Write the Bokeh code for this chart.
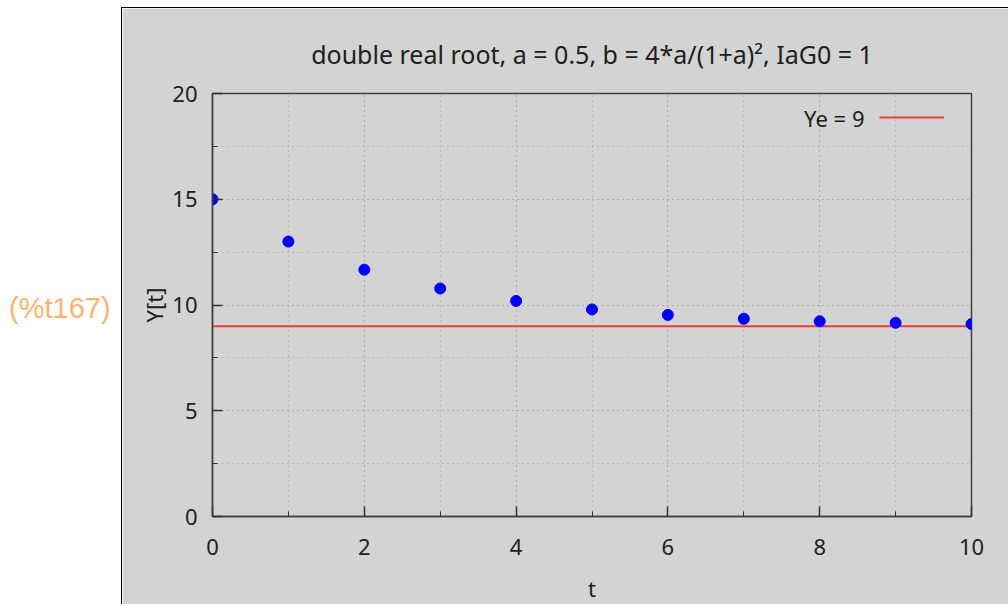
from bokeh.plotting import figure
from bokeh.models import (Range1d, SingleIntervalTicker, Label, Legend, LegendItem, Div,
                          ColumnDataSource)
from bokeh.layouts import row
from bokeh.embed import file_html
from bokeh.resources import INLINE

# ---- data ----
t_vals = [0, 1, 2, 3, 4, 5, 6, 7, 8, 9, 10]
Y_vals = [15.0, 13.0, 11.67, 10.78, 10.19, 9.79, 9.53, 9.35, 9.23, 9.16, 9.10]
Ye_t = [0, 10]
Ye_vals = [9, 9]

title_text = "double real root, a = 0.5, b = 4*a/(1+a)\u00b2, IaG0 = 1"
legend_text = "Ye = 9"
cell_label = "(%t167)"

GRAY = "#d3d3d3"
FONT = "Noto Sans"

p = figure(width=888, height=597, output_backend="svg", toolbar_location=None,
           x_range=Range1d(0, 10), y_range=Range1d(0, 20),
           min_border_left=90, min_border_right=39, min_border_top=85, min_border_bottom=88,
           background_fill_color=GRAY, border_fill_color=GRAY)
p.styles = {"border-left": "1px solid #000000", "border-top": "1px solid #000000"}

p.title.text = title_text
p.title.align = "center"
p.title.text_font = FONT
p.title.text_font_size = "25px"
p.title.text_font_style = "normal"
p.title.text_color = "#202020"
p.title.standoff = 45

p.outline_line_color = "#404040"
p.outline_line_width = 1.5

p.xaxis.ticker = SingleIntervalTicker(interval=2, num_minor_ticks=2)
p.yaxis.ticker = SingleIntervalTicker(interval=5, num_minor_ticks=2)

for ax in (p.xaxis[0], p.yaxis[0]):
    ax.axis_line_color = "#404040"
    ax.axis_line_width = 1.5
    ax.major_tick_in = 10
    ax.major_tick_out = 0
    ax.minor_tick_in = 5
    ax.minor_tick_out = 0
    ax.major_tick_line_color = "#303030"
    ax.minor_tick_line_color = "#303030"
    ax.major_tick_line_width = 1.5
    ax.major_label_text_font = FONT
    ax.major_label_text_font_size = "22px"
    ax.major_label_text_color = "#202020"
    ax.axis_label_text_font = FONT
    ax.axis_label_text_font_size = "22px"
    ax.axis_label_text_font_style = "normal"
    ax.axis_label_text_color = "#202020"

p.xaxis.major_label_standoff = 22
p.yaxis.major_label_standoff = 15
p.xaxis.axis_label = "t"
p.xaxis.axis_label_standoff = 15
p.yaxis.axis_label = "Y[t]"
p.yaxis.axis_label_standoff = 0

for g in (p.xgrid[0], p.ygrid[0]):
    g.grid_line_color = "#a0a0a0"
    g.grid_line_dash = "1 4"
    g.grid_line_width = 1
    g.minor_grid_line_color = "#a0a0a0"
    g.minor_grid_line_dash = "1 4"
    g.minor_grid_line_width = 1

src_ye = ColumnDataSource(dict(t=Ye_t, y=Ye_vals))
r_ye = p.line("t", "y", source=src_ye, line_color="#f03c3c", line_width=2)

src = ColumnDataSource(dict(t=t_vals, y=Y_vals))
p.scatter("t", "y", source=src, size=11, color="#0000ff")

legend = Legend(items=[LegendItem(label=" ", renderers=[r_ye])],
                location=(667, 389), glyph_width=65, glyph_height=20,
                padding=0, spacing=0, margin=0, label_standoff=0,
                background_fill_alpha=0, border_line_alpha=0,
                label_text_font_size="4px")
p.add_layout(legend)

p.add_layout(Label(x=8.59, y=18.82, text=legend_text, text_align="right",
                   text_baseline="middle", text_font=FONT, text_font_size="22px",
                   text_color="#202020"))

div = Div(text='<div style="padding-top:276px;padding-left:4px;">' + cell_label + '</div>',
          width=111, height=598,
          styles={"color": "#ffb36b", "font-family": "Liberation Sans",
                  "font-size": "29px", "background-color": "#ffffff"})

layout = row(div, p, spacing=0)
layout.styles = {"margin-top": "7px", "margin-bottom": "-15px"}
open("out.html", "w").write(file_html(layout, INLINE))
